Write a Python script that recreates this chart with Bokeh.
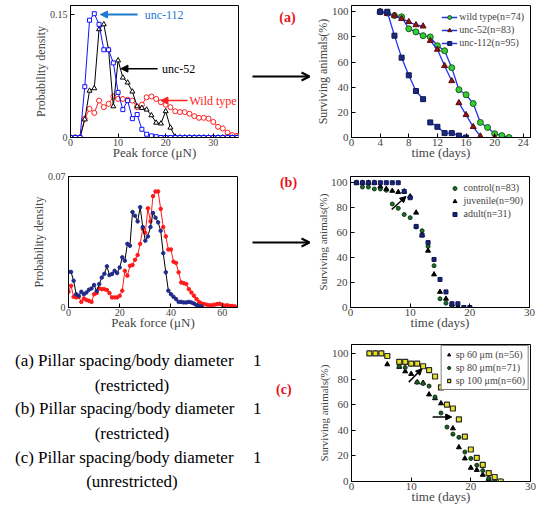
from bokeh.plotting import figure
from bokeh.models import (Range1d, FixedTicker, Arrow, NormalHead, OpenHead,
                          Legend, LegendItem, Div)
from bokeh.layouts import row, column
from bokeh.embed import file_html
from bokeh.resources import INLINE
from bokeh.core.properties import value

SERIF = "Liberation Serif"

# ---------------- data ----------------
# (a) left: probability density vs peak force
force_a = list(range(36))
unc112_density = [0, 0, 0, 0.062, 0.143, 0.151, 0.138, 0.107, 0.107, 0.091,
                  0.055, 0.034, 0.045, 0.023, 0.028, 0.010, 0.004, 0.002, 0.001, 0,
                  0, 0, 0, 0, 0, 0, 0, 0, 0, 0, 0, 0, 0, 0, 0, 0]
unc52_density = [0, 0, 0, 0.022, 0.057, 0.060, 0.132, 0.138, 0.107, 0.038,
                 0.094, 0.073, 0.067, 0.056, 0.038, 0.036, 0.034, 0.027, 0.018, 0.017,
                 0.032, 0.012, 0.001, 0, 0, 0, 0, 0, 0, 0, 0, 0, 0, 0, 0, 0]
wild_density = [0, 0, 0, 0.023, 0.035, 0.030, 0.045, 0.037, 0.041, 0.050,
                0.047, 0.047, 0.046, 0.045, 0.037, 0.040, 0.049, 0.050, 0.047, 0.043,
                0.040, 0.037, 0.032, 0.031, 0.031, 0.029, 0.026, 0.024, 0.024, 0.023,
                0.019, 0.013, 0.011, 0.006, 0.003, 0.002]

# (a) right: survival
days_wt = [4, 5, 6, 7, 8, 9, 10, 11, 12, 13, 14, 15, 16, 17, 18, 19, 20, 21, 22]
surv_wt = [100, 99, 97, 96, 86.5, 84, 81, 80, 73, 69, 55.5, 38, 34, 27, 12, 8, 3, 1.5, 0]
days_52 = [4, 5, 6, 7, 8, 9, 10, 11, 12, 13, 14, 15, 16, 17, 18, 20]
surv_52 = [100, 98.5, 97, 94.5, 92, 89.5, 88.5, 77, 70, 57, 45, 27.5, 18, 8.5, 1, 0]
days_112 = [4, 5, 6, 7, 8, 9, 10, 11, 12, 13, 14, 15, 16]
surv_112 = [100, 100, 81, 63.5, 49.5, 37, 30.5, 12, 8.5, 3.5, 3.5, 1.5, 0]

# (b) left: probability density
force_red = list(range(66))
red_density = [0.0084, 0.0116, 0.0057, 0.0054, 0.0057, 0.0030, 0.0048, 0.0040, 0.0036, 0.0030,
               0.0071, 0.0077, 0.0102, 0.0098, 0.0098, 0.0093, 0.0077, 0.0054, 0.0054, 0.0054,
               0.0063, 0.0090, 0.0196, 0.0170, 0.0223, 0.0227, 0.0255, 0.0280, 0.0340, 0.0420,
               0.0400, 0.0530, 0.0460, 0.0595, 0.0620, 0.0620, 0.0527, 0.0430, 0.0380, 0.0310,
               0.0310, 0.0245, 0.0238, 0.0188, 0.0134, 0.0130, 0.0125, 0.0098, 0.0080, 0.0063,
               0.0045, 0.0030, 0.0022, 0.0018, 0.0015, 0.0012, 0.0012, 0.0015, 0.0018, 0.0020,
               0.0015, 0.0010, 0.0012, 0.0008, 0.0008, 0.0006]
force_blue = list(range(53))
blue_density = [0.0191, 0.0190, 0.0143, 0.0071, 0.0063, 0.0084, 0.0071, 0.0080, 0.0095, 0.0102,
                0.0120, 0.0088, 0.0125, 0.0160, 0.0180, 0.0220, 0.0173, 0.0179, 0.0196, 0.0184,
                0.0214, 0.0268, 0.0250, 0.0340, 0.0330, 0.0510, 0.0490, 0.0460, 0.0536, 0.0430,
                0.0357, 0.0380, 0.0430, 0.0505, 0.0480, 0.0455, 0.0410, 0.0290, 0.0188, 0.0090,
                0.0071, 0.0057, 0.0045, 0.0030, 0.0030, 0.0027, 0.0027, 0.0030, 0.0027, 0.0021,
                0.0013, 0.0008, 0.0005]

# (b) right: survival
days_ctrl = [1, 2, 3, 4, 5, 6, 7, 8, 9, 10, 11, 12, 13, 14, 15, 16, 17, 18, 19, 20]
surv_ctrl = [100, 96.5, 96.5, 95, 95, 94, 83, 79.5, 74.5, 72, 64.5, 61.5, 49, 33.5, 7, 3.5, 1.5, 0, 0, 0]
days_juv = [1, 2, 3, 4, 5, 6, 7, 8, 9, 10, 11, 12, 13, 14, 15, 16, 17, 18]
surv_juv = [100, 100, 100, 100, 97, 95, 93.5, 92.5, 93, 89, 76, 58, 45.5, 26.5, 12.5, 7, 2.5, 0]
days_adult = [1, 2, 3, 4, 5, 6, 7, 8, 9, 10, 11, 12, 13, 14, 15, 16, 17, 18, 19, 20]
surv_adult = [100, 100, 100, 100, 100, 100, 100, 100, 93, 88, 65, 58, 52, 38.5, 22.5, 12.5, 3, 3, 0, 0]

# (c) right: survival
days_sp60 = [3, 4, 5, 6, 8, 9, 10, 11, 12, 13, 14, 15, 17, 18, 19, 20, 21, 22, 23, 24, 25]
surv_sp60 = [100, 100, 100, 91.5, 89.5, 86, 84, 77.5, 77, 68, 65, 61, 41.5, 26.7, 18, 10.7, 9, 5.2, 2, 0.8, 0]
days_sp80 = [3, 4, 5, 6, 8, 9, 11, 12, 13, 14, 15, 16, 17, 18, 19, 20, 21, 22, 23, 24, 25]
surv_sp80 = [100, 100, 100, 98, 90, 89, 77.5, 76.5, 74.5, 66, 53.5, 42.5, 37, 34.5, 23, 18, 12.7, 8.5, 2.5, 1.5, 0]
days_sp100 = [3, 4, 5, 6, 8, 9, 10, 11, 12, 13, 14, 15, 16, 17, 18, 19, 20, 21, 22, 23, 24, 25]
surv_sp100 = [100, 100, 100, 98, 93.5, 93.5, 92, 92, 90, 87, 82, 73.5, 60, 57, 48.5, 35, 25, 18.5, 13, 6.5, 3.5, 0]

# ticks
ticks_force_a = [0, 10, 20, 30]
ticks_dens_a = [0, 0.15]
ticks_force_b = [0, 20, 40, 60]
ticks_dens_b = [0, 0.07]
ticks_days_a = [0, 4, 8, 12, 16, 20, 24]
ticks_days_bc = [0, 10, 20, 30]
ticks_surv = [0, 20, 40, 60, 80, 100]

text_lines = ["(a) Pillar spacing/body diameter", "(restricted)",
              "(b) Pillar spacing/body diameter", "(restricted)",
              "(c) Pillar spacing/body diameter", "(unrestricted)"]
ratio_value = "1"


# ---------------- helpers ----------------
def base_fig(w, h, xr, yr, bl, br, bt, bb):
    p = figure(width=w, height=h, x_range=Range1d(*xr), y_range=Range1d(*yr),
               output_backend="svg", toolbar_location=None,
               min_border_left=bl, min_border_right=br, min_border_top=bt, min_border_bottom=bb)
    p.xgrid.visible = False
    p.ygrid.visible = False
    p.outline_line_color = "black"
    p.outline_line_alpha = 1
    p.background_fill_color = "white"
    p.border_fill_color = "white"
    return p


def style_axis(ax, ticks, label, label_size, tick_size, overrides=None, label_standoff=-4, tick_standoff=1):
    ax.ticker = FixedTicker(ticks=ticks)
    ax.axis_label = label
    ax.axis_label_text_font = SERIF
    ax.axis_label_text_font_style = "normal"
    ax.axis_label_text_font_size = label_size
    ax.axis_label_standoff = label_standoff
    ax.major_label_text_font = SERIF
    ax.major_label_text_font_size = tick_size
    ax.major_label_standoff = tick_standoff
    ax.major_tick_in = 4
    ax.major_tick_out = 0
    ax.minor_tick_line_color = None
    ax.axis_line_color = "black"
    ax.major_tick_line_color = "black"
    if overrides:
        ax.major_label_overrides = overrides


def blank(w, h, top, bottom):
    # frame spans local pixels [top, h-bottom]; data y == local pixel from the top
    p = figure(width=w, height=h, x_range=Range1d(0, w), y_range=Range1d(h - bottom, top),
               output_backend="svg", toolbar_location=None, min_border_left=0, min_border_right=0,
               min_border_top=top, min_border_bottom=bottom,
               x_axis_location=None, y_axis_location=None)
    p.xgrid.visible = False
    p.ygrid.visible = False
    p.outline_line_color = None
    p.background_fill_color = "white"
    p.border_fill_color = "white"
    return p


RED_TAG = "#e8141a"

# ---------------- row 1 (height 165) ----------------
A1 = base_fig(250, 165, (0, 35.3), (0, 0.161), 70, 12, 5, 28)
style_axis(A1.xaxis[0], ticks_force_a, "Peak force (\u03bcN)", "13px", "10px")
style_axis(A1.yaxis[0], ticks_dens_a, "Probability density", "12px", "10px", {0: "0", 0.15: "0.15"},
           label_standoff=-1, tick_standoff=3)
A1.line(force_a, wild_density, color="#ff2020", line_width=1)
A1.scatter(force_a, wild_density, marker="circle", size=5, line_color="#ff2020", fill_color="white", line_width=1)
A1.line(force_a, unc52_density, color="black", line_width=1)
A1.scatter(force_a, unc52_density, marker="triangle", size=5, line_color="black", fill_color="white", line_width=1)
A1.line(force_a, unc112_density, color="#1010ff", line_width=1)
A1.scatter(force_a, unc112_density, marker="square", size=4, line_color="#1010ff", fill_color="white", line_width=1)
A1.add_layout(Arrow(end=NormalHead(size=7, fill_color="#1f7bd0", line_color="#1f7bd0"),
                    x_start=14.1, y_start=0.150, x_end=6.3, y_end=0.150,
                    line_color="#1f7bd0", line_width=2))
A1.add_layout(Arrow(end=NormalHead(size=7, fill_color="black", line_color="black"),
                    x_start=18.3, y_start=0.084, x_end=10.6, y_end=0.084,
                    line_color="black", line_width=1.5))
A1.add_layout(Arrow(end=NormalHead(size=7, fill_color="#ff2020", line_color="#ff2020"),
                    x_start=24.6, y_start=0.045, x_end=19.0, y_end=0.045,
                    line_color="#ff2020", line_width=1.5))
A1.text(x=[15.6], y=[0.150], text=["unc-112"], text_color="#1f7bd0", text_font=value(SERIF),
        text_font_size="12px", text_baseline="middle", text_align="left")
A1.text(x=[19.2], y=[0.084], text=["unc-52"], text_color="black", text_font=value(SERIF),
        text_font_size="12px", text_baseline="middle", text_align="left")
A1.text(x=[25.0], y=[0.045], text=["Wild type"], text_color="#ff2020", text_font=value(SERIF),
        text_font_size="12px", text_baseline="middle", text_align="left")

A2 = blank(61, 165, 5, 28)
A2.add_layout(Arrow(end=OpenHead(size=8, line_color="black", line_width=2),
                    x_start=2, y_start=76, x_end=59, y_end=76, line_color="black", line_width=2))
A2.text(x=[37], y=[17], text=["(a)"], text_color=RED_TAG, text_font=value(SERIF),
        text_font_size="14px", text_font_style="bold", text_align="center", text_baseline="middle")

A3 = base_fig(229, 165, (0, 25), (0, 105), 40, 10, 5, 22)
style_axis(A3.xaxis[0], ticks_days_a, "time (days)", "13px", "11px")
style_axis(A3.yaxis[0], ticks_surv, "Surviving animals(%)", "12px", "11px", label_standoff=-1, tick_standoff=3)
LINE_BLUE = "#2035f0"
l_wt = A3.line(days_wt, surv_wt, color=LINE_BLUE, line_width=1.3)
s_wt = A3.scatter(days_wt, surv_wt, marker="circle", size=6, fill_color="#33cc33", line_color="#1d5a1d")
l52 = None
for a, b in ((0, 7), (7, 11), (11, 15)):
    r = A3.line(days_52[a:b], surv_52[a:b], color=LINE_BLUE, line_width=1.3)
    l52 = l52 or r
s_52 = A3.scatter(days_52, surv_52, marker="triangle", size=6, fill_color="#8b1515", line_color="#5a0a0a")
l112 = None
for a, b in ((0, 7), (7, 13)):
    r = A3.line(days_112[a:b], surv_112[a:b], color=LINE_BLUE, line_width=1.3)
    l112 = l112 or r
s_112 = A3.scatter(days_112, surv_112, marker="square", size=5, fill_color="#1a2a80", line_color="#101850")
legA = Legend(items=[LegendItem(label="wild type(n=74)", renderers=[l_wt, s_wt]),
                     LegendItem(label="unc-52(n=83)", renderers=[l52, s_52]),
                     LegendItem(label="unc-112(n=95)", renderers=[l112, s_112])],
              location="top_right", label_text_font=SERIF, label_text_font_size="10px",
              glyph_width=16, glyph_height=10, label_height=10, spacing=2, padding=4, margin=2,
              label_standoff=2, border_line_alpha=0, background_fill_alpha=0)
A3.add_layout(legA)

# ---------------- row 2 (height 170) ----------------
B1 = base_fig(250, 170, (0, 66), (0, 0.07), 68, 13, 11, 28)
style_axis(B1.xaxis[0], ticks_force_b, "Peak force (\u03bcN)", "13px", "10px")
style_axis(B1.yaxis[0], ticks_dens_b, "Probability density", "12px", "10px", {0: "0", 0.07: "0.07"},
           label_standoff=-1, tick_standoff=3)
B1.line(force_red, red_density, color="#ff1a1a", line_width=1)
B1.scatter(force_red, red_density, marker="circle", size=3.5, fill_color="#ff1a1a", line_color="#ff1a1a")
B1.line(force_blue, blue_density, color="black", line_width=1)
B1.scatter(force_blue, blue_density, marker="circle", size=3.5, fill_color="#1f2a8a", line_color="#1f2a8a")

B2 = blank(61, 170, 11, 28)
B2.add_layout(Arrow(end=OpenHead(size=8, line_color="black", line_width=2),
                    x_start=2, y_start=77, x_end=59, y_end=77, line_color="black", line_width=2))
B2.text(x=[38], y=[17], text=["(b)"], text_color=RED_TAG, text_font=value(SERIF),
        text_font_size="14px", text_font_style="bold", text_align="center", text_baseline="middle")

B3 = base_fig(229, 170, (0, 30), (0, 105), 39, 11, 10, 22)
style_axis(B3.xaxis[0], ticks_days_bc, "time (days)", "13px", "11px")
style_axis(B3.yaxis[0], ticks_surv, "Surviving animals(%)", "11px", "11px", label_standoff=-1, tick_standoff=3)
s_c = B3.scatter(days_ctrl, surv_ctrl, marker="circle", size=4, fill_color="#1e6b2a", line_color="#103d18")
s_j = B3.scatter(days_juv, surv_juv, marker="triangle", size=5, fill_color="black", line_color="black")
s_a = B3.scatter(days_adult, surv_adult, marker="square", size=4, fill_color="#1a237a", line_color="#0d1450")
B3.add_layout(Arrow(end=NormalHead(size=6, fill_color="black", line_color="black"),
                    x_start=6.9, y_start=78.5, x_end=9.3, y_end=89, line_color="black", line_width=1.5))
legB = Legend(items=[LegendItem(label="control(n=83)", renderers=[s_c]),
                     LegendItem(label="juvenile(n=90)", renderers=[s_j]),
                     LegendItem(label="adult(n=31)", renderers=[s_a])],
              location="top_right", label_text_font=SERIF, label_text_font_size="10px",
              glyph_width=10, glyph_height=10, label_height=10, spacing=2, padding=3, margin=3,
              label_standoff=4, border_line_alpha=0, background_fill_alpha=0)
B3.add_layout(legB)

# ---------------- row 3 (height 171) ----------------
ys = [26, 51, 74, 99, 123, 147]
parts = ['<div style="position:relative;width:311px;height:171px;font-family:\'Liberation Serif\',serif;'
         'color:black;font-size:17px;line-height:20px;">']
for i, t in enumerate(text_lines):
    top = ys[i] - 10
    if i % 2 == 1:
        parts.append('<div style="position:absolute;left:132px;top:%dpx;transform:translateX(-50%%);'
                     'white-space:nowrap;">%s</div>' % (top, t))
    else:
        parts.append('<div style="position:absolute;left:15px;top:%dpx;white-space:nowrap;">%s</div>'
                     % (top, t))
        parts.append('<div style="position:absolute;left:253px;top:%dpx;white-space:nowrap;">%s</div>'
                     % (top, ratio_value))
parts.append('<div style="position:absolute;left:276px;top:45px;color:%s;font-weight:bold;font-size:14px;'
             'white-space:nowrap;">(c)</div>' % RED_TAG)
parts.append('</div>')
C1 = Div(text="".join(parts), width=311, height=171, margin=0)

C3 = base_fig(229, 171, (0, 30), (0, 107), 40, 10, 9, 22)
style_axis(C3.xaxis[0], ticks_days_bc, "time (days)", "13px", "11px")
style_axis(C3.yaxis[0], ticks_surv, "Surviving animals(%)", "11px", "11px", label_standoff=-1, tick_standoff=3)
s60 = C3.scatter(days_sp60, surv_sp60, marker="triangle", size=5, fill_color="black", line_color="black")
s80 = C3.scatter(days_sp80, surv_sp80, marker="circle", size=4, fill_color="#1e5a24", line_color="#0f3314")
s100 = C3.scatter(days_sp100, surv_sp100, marker="square", size=5, fill_color="#e8e020", line_color="#2a2a2a",
                  line_width=1.2)
C3.add_layout(Arrow(end=NormalHead(size=6, fill_color="black", line_color="black"),
                    x_start=9.6, y_start=77.6, x_end=11.8, y_end=88, line_color="black", line_width=1.5))
C3.add_layout(Arrow(end=NormalHead(size=6, fill_color="black", line_color="black"),
                    x_start=13.6, y_start=50.4, x_end=16.8, y_end=50.4, line_color="black", line_width=1.5))
legC = Legend(items=[LegendItem(label="sp 60 \u03bcm (n=56)", renderers=[s60]),
                     LegendItem(label="sp 80 \u03bcm(n=71)", renderers=[s80]),
                     LegendItem(label="sp 100 \u03bcm(n=60)", renderers=[s100])],
              location="top_right", label_text_font=SERIF, label_text_font_size="10px",
              glyph_width=8, glyph_height=9, label_height=9, spacing=2, padding=3, margin=1,
              label_standoff=3, border_line_color="black", border_line_width=1,
              background_fill_color="white", background_fill_alpha=1)
C3.add_layout(legC)

layout = column(row(A1, A2, A3), row(B1, B2, B3), row(C1, C3))

open("out.html", "w").write(file_html(layout, INLINE))
